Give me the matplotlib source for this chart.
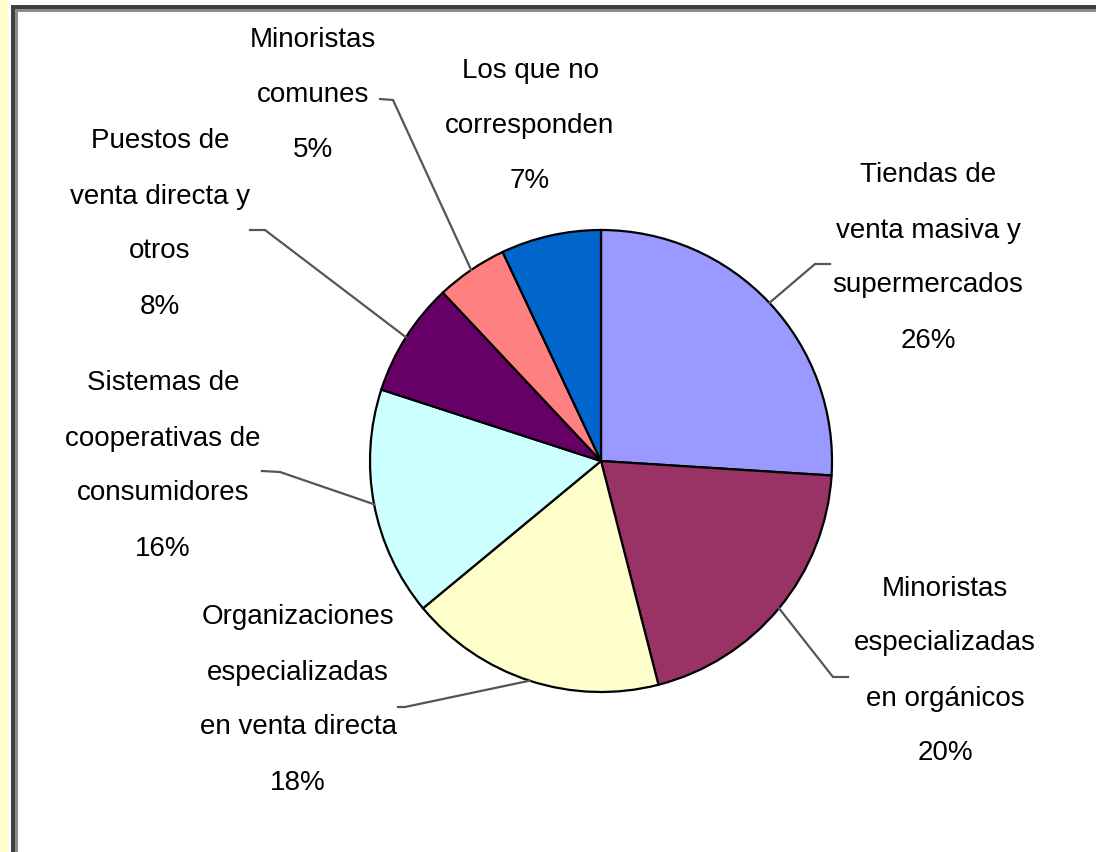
import matplotlib
matplotlib.use("Agg")
import matplotlib.pyplot as plt
from matplotlib.patches import Rectangle
import numpy as np

plt.rcParams["font.family"] = ["Liberation Sans", "DejaVu Sans"]

# data
labels = [
    "Tiendas de\nventa masiva y\nsupermercados",
    "Minoristas\nespecializadas\nen orgánicos",
    "Organizaciones\nespecializadas\nen venta directa",
    "Sistemas de\ncooperativas de\nconsumidores",
    "Puestos de\nventa directa y\notros",
    "Minoristas\ncomunes",
    "Los que no\ncorresponden",
]
shares = [26, 20, 18, 16, 8, 5, 7]
colors = ["#9999FF", "#993366", "#FFFFCC", "#CCFFFF", "#660066", "#FF8080", "#0066CC"]

# layout (pixel coords, y measured from top)
W, H = 1096, 852
cx, cy, rad = 601, 461, 231
label_pos = [(928, 258), (945, 671), (298, 700), (163, 466), (160, 224), (313, 95), (530, 126)]
elbows = [((815, 264), (830, 264)),
          ((833, 677), (848, 677)),
          ((405, 707), (398, 707)),
          ((280, 472), (262, 471)),
          ((265, 230), (250, 230)),
          ((393, 100), (380, 99)),
          None]

fig = plt.figure(figsize=(W / 100, H / 100), dpi=100)
ax = fig.add_axes([0, 0, 1, 1])
ax.set_xlim(0, W)
ax.set_ylim(0, H)
ax.set_aspect("equal")
ax.axis("off")

# page background strip and frame
ax.add_patch(Rectangle((0, 0), 8, H, color="#FFFFCC", lw=0))
ax.add_patch(Rectangle((11, 0), 3.5, H - 5, color="#404040", lw=0))
ax.add_patch(Rectangle((14.5, 0), 3.5, H - 9, color="#8C8C8C", lw=0))
ax.add_patch(Rectangle((11, H - 9), W - 11, 4, color="#404040", lw=0))
ax.add_patch(Rectangle((14.5, H - 12), W - 14.5, 3, color="#8C8C8C", lw=0))

wedges, _ = ax.pie(shares, colors=colors, startangle=90, counterclock=False,
                   center=(cx, H - cy), radius=rad,
                   wedgeprops=dict(edgecolor="black", linewidth=1.6))
ax.set_xlim(0, W)
ax.set_ylim(0, H)

for w, lab, pct, (lx, ly), el in zip(wedges, labels, shares, label_pos, elbows):
    ax.text(lx, H - ly, lab + "\n" + f"{pct}%", ha="center", va="center",
            fontsize=20, linespacing=2.45, color="black")
    if el is None:
        continue
    mid = np.deg2rad((w.theta1 + w.theta2) / 2)
    x0 = cx + rad * np.cos(mid)
    y0 = (H - cy) + rad * np.sin(mid)
    (ex, ey), (fx, fy) = el
    ax.plot([x0, ex, fx], [y0, H - ey, H - fy], color="#555555", lw=1.6,
            solid_joinstyle="miter")

fig.savefig("out.png", dpi=100)
